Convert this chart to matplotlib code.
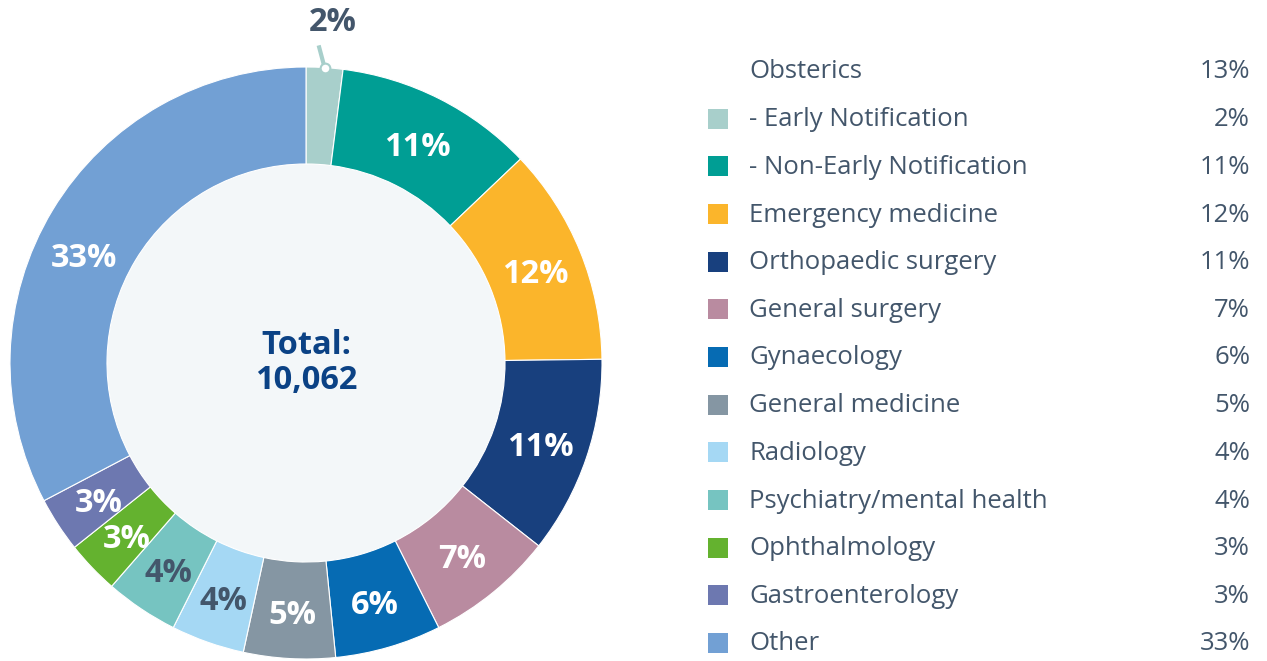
import numpy as np
import matplotlib
matplotlib.use("Agg")
import matplotlib.pyplot as plt
from matplotlib.patches import Circle, Rectangle

# ---- data ----
categories = ["- Early Notification", "- Non-Early Notification", "Emergency medicine",
              "Orthopaedic surgery", "General surgery", "Gynaecology", "General medicine",
              "Radiology", "Psychiatry/mental health", "Ophthalmology", "Gastroenterology", "Other"]
shares = [2.0, 10.9, 11.9, 10.8, 7.0, 5.8, 5.0, 4.0, 4.0, 2.9, 3.0, 32.7]
pct_labels = ["2%", "11%", "12%", "11%", "7%", "6%", "5%", "4%", "4%", "3%", "3%", "33%"]
colors = ["#a8cfcb", "#009e94", "#fbb52b", "#18407e", "#b98ba0", "#066bb3", "#8596a3",
          "#a5d8f4", "#76c4c1", "#64b22f", "#6d78b0", "#72a0d4"]
label_dark = [True, False, False, False, False, False, False, True, True, False, False, False]
group_label = "Obsterics"
group_pct = "13%"
total_text = "Total:\n10,062"

W, H = 1267, 661
DARK = "#43566b"
NAVY = "#0b4285"
FONT = "Open Sans"

fig = plt.figure(figsize=(W / 100, H / 100), dpi=100)
fig.patch.set_facecolor("white")

# pie axes: center (306, 363) px from top-left, radius 296 px
cx, cy, R = 306, 363, 296
ax = fig.add_axes([(cx - R) / W, (H - cy - R) / H, 2 * R / W, 2 * R / H])
ax.set_xlim(-1, 1)
ax.set_ylim(-1, 1)
ax.axis("off")

ring_w = (296 - 199) / 296
wedges, _ = ax.pie(shares, colors=colors, startangle=90, counterclock=False, radius=1,
                   wedgeprops=dict(width=ring_w, edgecolor="white", linewidth=0.8))
ax.add_patch(Circle((0, 0), 1 - ring_w, facecolor="#f3f7f9", edgecolor="none", zorder=0))
ax.set_xlim(-1, 1)
ax.set_ylim(-1, 1)

ax.text(0, 0.0, total_text, ha="center", va="center", fontsize=23.5, fontweight="bold",
        color=NAVY, family=FONT, linespacing=1.1)

mid_r = 1 - ring_w / 2
for i, w in enumerate(wedges):
    mid_deg = (w.theta1 + w.theta2) / 2
    if i == len(wedges) - 1:
        mid_deg += 5  # the large "Other" label sits a little lower
    ang = np.deg2rad(mid_deg)
    if i == 0:
        x0, y0 = np.cos(ang), np.sin(ang)
        ax.plot([x0, x0 - 0.02], [y0, y0 + 0.075], color=colors[0], lw=3,
                solid_capstyle="butt", clip_on=False, zorder=3)
        ax.plot([x0], [y0], marker="o", ms=7, mfc="white", mec=colors[0], mew=1.5,
                clip_on=False, zorder=4)
        ax.text(0.091, 1.152, pct_labels[i], ha="center", va="center", fontsize=23.5,
                fontweight="bold", color=DARK, family=FONT)
        continue
    ax.text(mid_r * np.cos(ang), mid_r * np.sin(ang) - 0.017, pct_labels[i],
            ha="center", va="center", fontsize=23.5, fontweight="bold",
            color=DARK if label_dark[i] else "white", family=FONT)

# legend axes in pixel coordinates
lax = fig.add_axes([0, 0, 1, 1])
lax.set_xlim(0, W)
lax.set_ylim(H, 0)
lax.axis("off")

rows_lbl = [group_label] + categories
rows_pct = [group_pct] + pct_labels
rows_col = [None] + colors
y_first, y_last = 71, 643
step = (y_last - y_first) / (len(rows_lbl) - 1)
for j, (lbl, pc, col) in enumerate(zip(rows_lbl, rows_pct, rows_col)):
    y = y_first + j * step
    if col is not None:
        lax.add_patch(Rectangle((708, y - 10), 20, 20, facecolor=col, edgecolor="none"))
    lax.text(749, y + 1, lbl, ha="left", va="center", fontsize=18.5,
             color=DARK, family=FONT)
    lax.text(1250, y + 1, pc, ha="right", va="center", fontsize=18.5, color=DARK, family=FONT)

fig.savefig("out.png", dpi=100)
